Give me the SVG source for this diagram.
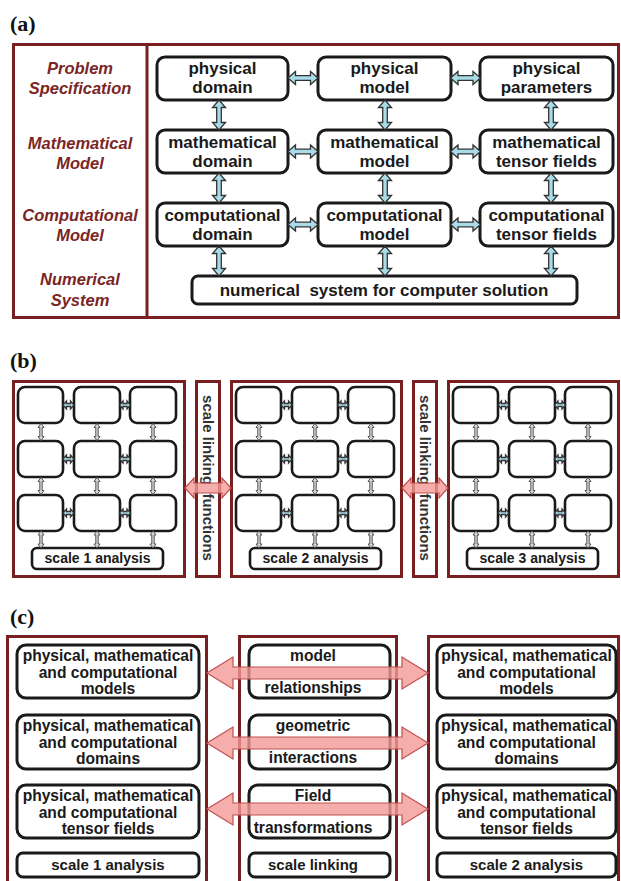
<svg xmlns="http://www.w3.org/2000/svg" xmlns:xlink="http://www.w3.org/1999/xlink" width="621" height="881" viewBox="0 0 621 881">
<style>
.panel{fill:none;stroke:#7a1f1f;stroke-width:3}
.node{fill:#fff;stroke:#1a1a1a;stroke-width:3}
.nodeS{fill:#fff;stroke:#1a1a1a;stroke-width:2.6}
.t{font-family:"Liberation Sans",Arial,sans-serif;font-weight:bold;fill:#1a1a1a;text-anchor:middle}
.a17{font-size:17px}
.a16{font-size:15.6px}
.a15{font-size:15px}
.a14{font-size:14px}
.lab{font-family:"Liberation Sans",Arial,sans-serif;font-weight:bold;font-style:italic;font-size:16.5px;fill:#7b2525;text-anchor:middle}
.pl{font-family:"Liberation Serif","Times New Roman",serif;font-weight:bold;font-size:22px;fill:#111}
.blue{fill:#a9dbe8;stroke:#333;stroke-width:1.3}
.grey{fill:#d8d8d8;stroke:#555;stroke-width:1}
.red{fill:#f39a96;fill-opacity:0.8;stroke:#c0504d;stroke-width:1.2}
</style>
<defs>
<path id="dblA" class="blue" d="M-15,0 L-7.5,-6.5 L-7.5,-2.3 L7.5,-2.3 L7.5,-6.5 L15,0 L7.5,6.5 L7.5,2.3 L-7.5,2.3 L-7.5,6.5 Z"/>
<path id="dblB" class="blue" d="M-5.5,0 L-2,-4 L-2,-1.5 L2,-1.5 L2,-4 L5.5,0 L2,4 L2,1.5 L-2,1.5 L-2,4 Z"/>
<path id="dblBv" class="grey" d="M0,-8.5 L-3,-4.5 L-1.2,-4.5 L-1.2,4.5 L-3,4.5 L0,8.5 L3,4.5 L1.2,4.5 L1.2,-4.5 L3,-4.5 Z"/>
<path id="redC" class="red" d="M207,0 L233,-16 L233,-6 L402,-6 L402,-16 L428,0 L402,16 L402,6 L233,6 L233,16 Z"/>
<path id="redB" class="red" d="M0,0 L9,-10 L9,-5 L37,-5 L37,-10 L46,0 L37,10 L37,5 L9,5 L9,10 Z"/>
</defs>

<!-- ================= Panel (a) ================= -->
<text class="pl" x="10" y="31">(a)</text>
<g id="panelA">
<rect class="panel" x="13.5" y="44.5" width="605" height="273"/>
<line class="panel" x1="147" y1="44.5" x2="147" y2="317.5"/>
</g>
<g id="labelsA">
<text class="lab" x="80" y="74">Problem</text>
<text class="lab" x="80" y="94">Specification</text>
<text class="lab" x="80" y="149">Mathematical</text>
<text class="lab" x="80" y="169">Model</text>
<text class="lab" x="80" y="221">Computational</text>
<text class="lab" x="80" y="241">Model</text>
<text class="lab" x="80" y="285">Numerical</text>
<text class="lab" x="80" y="306">System</text>
</g>
<g id="a-physical-domain"><rect class="node" x="157" y="57" width="131" height="43" rx="8"/><text class="t a17" x="222.5" y="74">physical</text><text class="t a17" x="222.5" y="93">domain</text></g>
<g id="a-physical-model"><rect class="node" x="318" y="57" width="133" height="43" rx="8"/><text class="t a17" x="384.5" y="74">physical</text><text class="t a17" x="384.5" y="93">model</text></g>
<g id="a-physical-parameters"><rect class="node" x="480" y="57" width="133" height="43" rx="8"/><text class="t a17" x="546.5" y="74">physical</text><text class="t a17" x="546.5" y="93">parameters</text></g>
<g id="a-math-domain"><rect class="node" x="157" y="130" width="131" height="43" rx="8"/><text class="t a17" x="222.5" y="148">mathematical</text><text class="t a17" x="222.5" y="167">domain</text></g>
<g id="a-math-model"><rect class="node" x="318" y="130" width="133" height="43" rx="8"/><text class="t a17" x="384.5" y="148">mathematical</text><text class="t a17" x="384.5" y="167">model</text></g>
<g id="a-math-tensor"><rect class="node" x="480" y="130" width="133" height="43" rx="8"/><text class="t a17" x="546.5" y="148">mathematical</text><text class="t a17" x="546.5" y="167">tensor fields</text></g>
<g id="a-comp-domain"><rect class="node" x="157" y="203" width="131" height="43" rx="8"/><text class="t a17" x="222.5" y="221">computational</text><text class="t a17" x="222.5" y="240">domain</text></g>
<g id="a-comp-model"><rect class="node" x="318" y="203" width="133" height="43" rx="8"/><text class="t a17" x="384.5" y="221">computational</text><text class="t a17" x="384.5" y="240">model</text></g>
<g id="a-comp-tensor"><rect class="node" x="480" y="203" width="133" height="43" rx="8"/><text class="t a17" x="546.5" y="221">computational</text><text class="t a17" x="546.5" y="240">tensor fields</text></g>
<g id="a-numerical"><rect class="node" x="192" y="276" width="385" height="28" rx="6"/><text class="t a17" x="384" y="296" xml:space="preserve">numerical  system for computer solution</text></g>
<g id="connectorsA">
<use xlink:href="#dblA" transform="translate(303,78)"/>
<use xlink:href="#dblA" transform="translate(465.5,78)"/>
<use xlink:href="#dblA" transform="translate(303,151.5)"/>
<use xlink:href="#dblA" transform="translate(465.5,151.5)"/>
<use xlink:href="#dblA" transform="translate(303,224.5)"/>
<use xlink:href="#dblA" transform="translate(465.5,224.5)"/>
<use xlink:href="#dblA" transform="translate(219,115) rotate(90)"/>
<use xlink:href="#dblA" transform="translate(385,115) rotate(90)"/>
<use xlink:href="#dblA" transform="translate(551,115) rotate(90)"/>
<use xlink:href="#dblA" transform="translate(219,188) rotate(90)"/>
<use xlink:href="#dblA" transform="translate(385,188) rotate(90)"/>
<use xlink:href="#dblA" transform="translate(551,188) rotate(90)"/>
<use xlink:href="#dblA" transform="translate(219,261) rotate(90)"/>
<use xlink:href="#dblA" transform="translate(385,261) rotate(90)"/>
<use xlink:href="#dblA" transform="translate(551,261) rotate(90)"/>
</g>

<!-- ================= Panel (b) ================= -->
<text class="pl" x="10" y="368">(b)</text>
<g id="panelB">
<rect class="panel" x="13.5" y="381.5" width="171" height="195"/>
<rect class="panel" x="196.5" y="381.5" width="23" height="195"/>
<rect class="panel" x="231.5" y="381.5" width="170" height="195"/>
<rect class="panel" x="413.5" y="381.5" width="23" height="195"/>
<rect class="panel" x="448.5" y="381.5" width="170" height="195"/>
</g>
<g id="b-scale1">
<rect class="nodeS" x="18" y="387" width="45" height="36" rx="7"/><rect class="nodeS" x="74" y="387" width="46" height="36" rx="7"/><rect class="nodeS" x="130" y="387" width="46" height="36" rx="7"/>
<rect class="nodeS" x="18" y="441" width="45" height="36" rx="7"/><rect class="nodeS" x="74" y="441" width="46" height="36" rx="7"/><rect class="nodeS" x="130" y="441" width="46" height="36" rx="7"/>
<rect class="nodeS" x="18" y="495" width="45" height="36" rx="7"/><rect class="nodeS" x="74" y="495" width="46" height="36" rx="7"/><rect class="nodeS" x="130" y="495" width="46" height="36" rx="7"/>
<rect class="nodeS" x="32" y="548" width="131" height="21" rx="5"/><text class="t a14" x="97.5" y="563">scale 1 analysis</text>
</g>
<g id="b-scale2">
<rect class="nodeS" x="236" y="387" width="45" height="36" rx="7"/><rect class="nodeS" x="292" y="387" width="46" height="36" rx="7"/><rect class="nodeS" x="348" y="387" width="46" height="36" rx="7"/>
<rect class="nodeS" x="236" y="441" width="45" height="36" rx="7"/><rect class="nodeS" x="292" y="441" width="46" height="36" rx="7"/><rect class="nodeS" x="348" y="441" width="46" height="36" rx="7"/>
<rect class="nodeS" x="236" y="495" width="45" height="36" rx="7"/><rect class="nodeS" x="292" y="495" width="46" height="36" rx="7"/><rect class="nodeS" x="348" y="495" width="46" height="36" rx="7"/>
<rect class="nodeS" x="250" y="548" width="131" height="21" rx="5"/><text class="t a14" x="315.5" y="563">scale 2 analysis</text>
</g>
<g id="b-scale3">
<rect class="nodeS" x="453" y="387" width="45" height="36" rx="7"/><rect class="nodeS" x="509" y="387" width="46" height="36" rx="7"/><rect class="nodeS" x="565" y="387" width="46" height="36" rx="7"/>
<rect class="nodeS" x="453" y="441" width="45" height="36" rx="7"/><rect class="nodeS" x="509" y="441" width="46" height="36" rx="7"/><rect class="nodeS" x="565" y="441" width="46" height="36" rx="7"/>
<rect class="nodeS" x="453" y="495" width="45" height="36" rx="7"/><rect class="nodeS" x="509" y="495" width="46" height="36" rx="7"/><rect class="nodeS" x="565" y="495" width="46" height="36" rx="7"/>
<rect class="nodeS" x="467" y="548" width="131" height="21" rx="5"/><text class="t a14" x="532.5" y="563">scale 3 analysis</text>
</g>
<g id="b-link1"><text class="t a15" style="fill:#333" transform="translate(203,478) rotate(90)" xml:space="preserve">scale linking  functions</text></g>
<g id="b-link2"><text class="t a15" style="fill:#333" transform="translate(420,478) rotate(90)" xml:space="preserve">scale linking  functions</text></g>
<g id="connectorsB">
<use xlink:href="#dblB" transform="translate(68.5,405)"/><use xlink:href="#dblB" transform="translate(125,405)"/>
<use xlink:href="#dblB" transform="translate(68.5,459)"/><use xlink:href="#dblB" transform="translate(125,459)"/>
<use xlink:href="#dblB" transform="translate(68.5,513)"/><use xlink:href="#dblB" transform="translate(125,513)"/>
<use xlink:href="#dblB" transform="translate(286.5,405)"/><use xlink:href="#dblB" transform="translate(343,405)"/>
<use xlink:href="#dblB" transform="translate(286.5,459)"/><use xlink:href="#dblB" transform="translate(343,459)"/>
<use xlink:href="#dblB" transform="translate(286.5,513)"/><use xlink:href="#dblB" transform="translate(343,513)"/>
<use xlink:href="#dblB" transform="translate(503.5,405)"/><use xlink:href="#dblB" transform="translate(560,405)"/>
<use xlink:href="#dblB" transform="translate(503.5,459)"/><use xlink:href="#dblB" transform="translate(560,459)"/>
<use xlink:href="#dblB" transform="translate(503.5,513)"/><use xlink:href="#dblB" transform="translate(560,513)"/>
<use xlink:href="#dblBv" transform="translate(41,432)"/><use xlink:href="#dblBv" transform="translate(97,432)"/><use xlink:href="#dblBv" transform="translate(153,432)"/>
<use xlink:href="#dblBv" transform="translate(41,486)"/><use xlink:href="#dblBv" transform="translate(97,486)"/><use xlink:href="#dblBv" transform="translate(153,486)"/>
<use xlink:href="#dblBv" transform="translate(41,539.5)"/><use xlink:href="#dblBv" transform="translate(97,539.5)"/><use xlink:href="#dblBv" transform="translate(153,539.5)"/>
<use xlink:href="#dblBv" transform="translate(259,432)"/><use xlink:href="#dblBv" transform="translate(315,432)"/><use xlink:href="#dblBv" transform="translate(371,432)"/>
<use xlink:href="#dblBv" transform="translate(259,486)"/><use xlink:href="#dblBv" transform="translate(315,486)"/><use xlink:href="#dblBv" transform="translate(371,486)"/>
<use xlink:href="#dblBv" transform="translate(259,539.5)"/><use xlink:href="#dblBv" transform="translate(315,539.5)"/><use xlink:href="#dblBv" transform="translate(371,539.5)"/>
<use xlink:href="#dblBv" transform="translate(476,432)"/><use xlink:href="#dblBv" transform="translate(532,432)"/><use xlink:href="#dblBv" transform="translate(588,432)"/>
<use xlink:href="#dblBv" transform="translate(476,486)"/><use xlink:href="#dblBv" transform="translate(532,486)"/><use xlink:href="#dblBv" transform="translate(588,486)"/>
<use xlink:href="#dblBv" transform="translate(476,539.5)"/><use xlink:href="#dblBv" transform="translate(532,539.5)"/><use xlink:href="#dblBv" transform="translate(588,539.5)"/>
<use xlink:href="#redB" transform="translate(185,488)"/>
<use xlink:href="#redB" transform="translate(402,488)"/>
</g>

<!-- ================= Panel (c) ================= -->
<text class="pl" x="10" y="624">(c)</text>
<g id="panelC">
<rect class="panel" x="7.5" y="636.5" width="199" height="250"/>
<rect class="panel" x="239.5" y="636.5" width="157" height="250"/>
<rect class="panel" x="428.5" y="636.5" width="190" height="250"/>
</g>
<g id="c-left-models"><rect class="node" x="17" y="645" width="182" height="53" rx="9"/><text class="t a16" x="108" y="661">physical, mathematical</text><text class="t a16" x="108" y="678">and computational</text><text class="t a16" x="108" y="694">models</text></g>
<g id="c-left-domains"><rect class="node" x="17" y="715" width="182" height="54" rx="9"/><text class="t a16" x="108" y="731">physical, mathematical</text><text class="t a16" x="108" y="748">and computational</text><text class="t a16" x="108" y="764">domains</text></g>
<g id="c-left-tensor"><rect class="node" x="17" y="785" width="182" height="53" rx="9"/><text class="t a16" x="108" y="801">physical, mathematical</text><text class="t a16" x="108" y="818">and computational</text><text class="t a16" x="108" y="834">tensor fields</text></g>
<g id="c-left-scale"><rect class="node" x="17" y="853" width="182" height="24" rx="6"/><text class="t a15" x="108" y="870">scale 1 analysis</text></g>
<g id="c-mid-model"><rect class="node" x="249" y="645" width="141" height="53" rx="9"/><text class="t a16" x="313" y="661">model</text><text class="t a16" x="313" y="693">relationships</text></g>
<g id="c-mid-geometric"><rect class="node" x="249" y="715" width="141" height="54" rx="9"/><text class="t a16" x="313" y="731">geometric</text><text class="t a16" x="313" y="763">interactions</text></g>
<g id="c-mid-field"><rect class="node" x="249" y="785" width="141" height="53" rx="9"/><text class="t a16" x="313" y="801">Field</text><text class="t a16" x="313" y="833">transformations</text></g>
<g id="c-mid-scale"><rect class="node" x="249" y="853" width="141" height="24" rx="6"/><text class="t a15" x="313" y="870">scale linking</text></g>
<g id="c-right-models"><rect class="node" x="437" y="645" width="179" height="53" rx="9"/><text class="t a16" x="526.5" y="661">physical, mathematical</text><text class="t a16" x="526.5" y="678">and computational</text><text class="t a16" x="526.5" y="694">models</text></g>
<g id="c-right-domains"><rect class="node" x="437" y="715" width="179" height="54" rx="9"/><text class="t a16" x="526.5" y="731">physical, mathematical</text><text class="t a16" x="526.5" y="748">and computational</text><text class="t a16" x="526.5" y="764">domains</text></g>
<g id="c-right-tensor"><rect class="node" x="437" y="785" width="179" height="53" rx="9"/><text class="t a16" x="526.5" y="801">physical, mathematical</text><text class="t a16" x="526.5" y="818">and computational</text><text class="t a16" x="526.5" y="834">tensor fields</text></g>
<g id="c-right-scale"><rect class="node" x="437" y="853" width="179" height="24" rx="6"/><text class="t a15" x="526.5" y="870">scale 2 analysis</text></g>
<g id="connectorsC">
<use xlink:href="#redC" transform="translate(0,673)"/>
<use xlink:href="#redC" transform="translate(0,743)"/>
<use xlink:href="#redC" transform="translate(0,809)"/>
</g>
</svg>
